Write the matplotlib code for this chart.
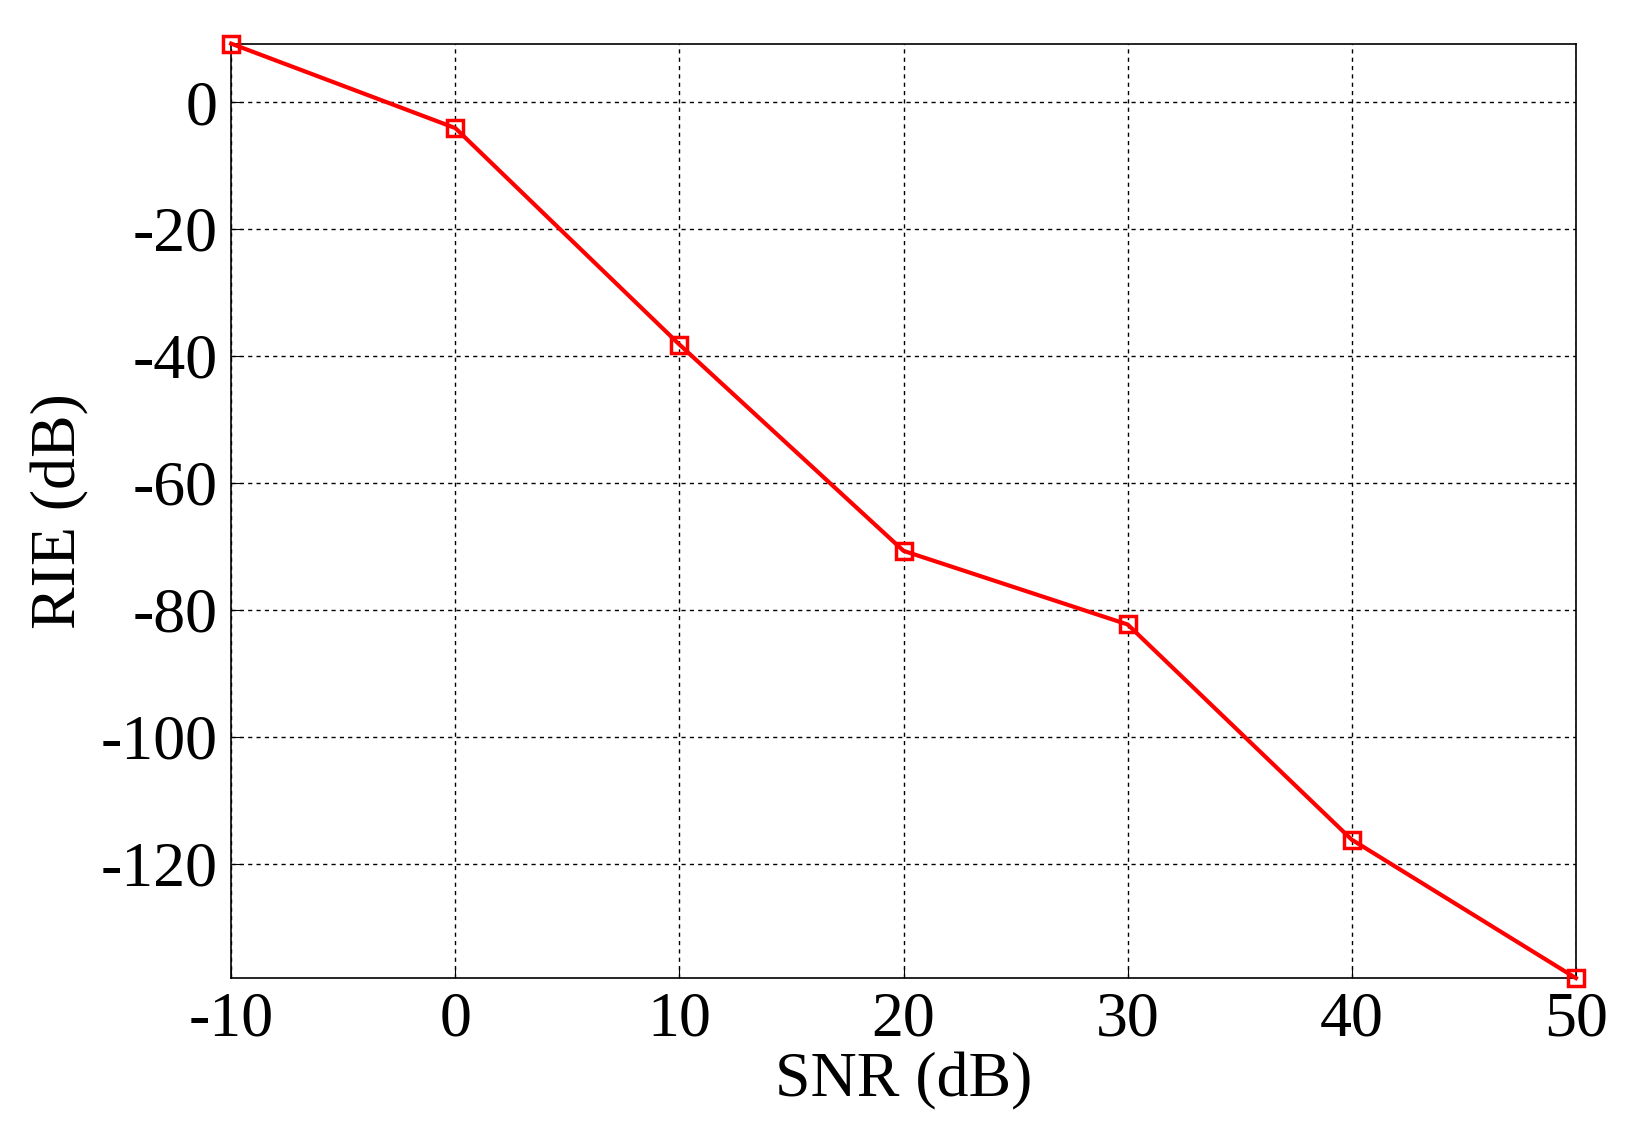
import matplotlib
matplotlib.use('Agg')
import matplotlib.pyplot as plt

snr = [-10, 0, 10, 20, 30, 40, 50]
rie = [9.2, -4.1, -38.2, -70.7, -82.3, -116.2, -138.0]
xticks = [-10, 0, 10, 20, 30, 40, 50]
yticks = [0, -20, -40, -60, -80, -100, -120]

plt.rcParams['font.family'] = ['Liberation Serif']
plt.rcParams['axes.unicode_minus'] = False
fig = plt.figure(figsize=(16.28, 11.48), dpi=100)
ax = fig.add_axes([0.142, 0.148, 0.826, 0.814])
ax.plot(snr, rie, color='red', lw=3, marker='s', ms=11, mfc='none', mec='red', mew=2.5, clip_on=False, zorder=5)
ax.set_xlim(-10, 50)
ax.set_ylim(-138, 9.2)
ax.set_xticks(xticks)
ax.set_yticks(yticks)
ax.grid(True, color='black', linestyle=(0, (3, 3)), lw=1)
ax.tick_params(labelsize=46, direction='in', length=8, pad=10)
for s in ax.spines.values():
    s.set_linewidth(1.2)
ax.set_xlabel('SNR (dB)', fontsize=46, labelpad=2)
ax.set_ylabel('RIE (dB)', fontsize=46, labelpad=8)
fig.savefig('out.png', dpi=100, facecolor='white')
